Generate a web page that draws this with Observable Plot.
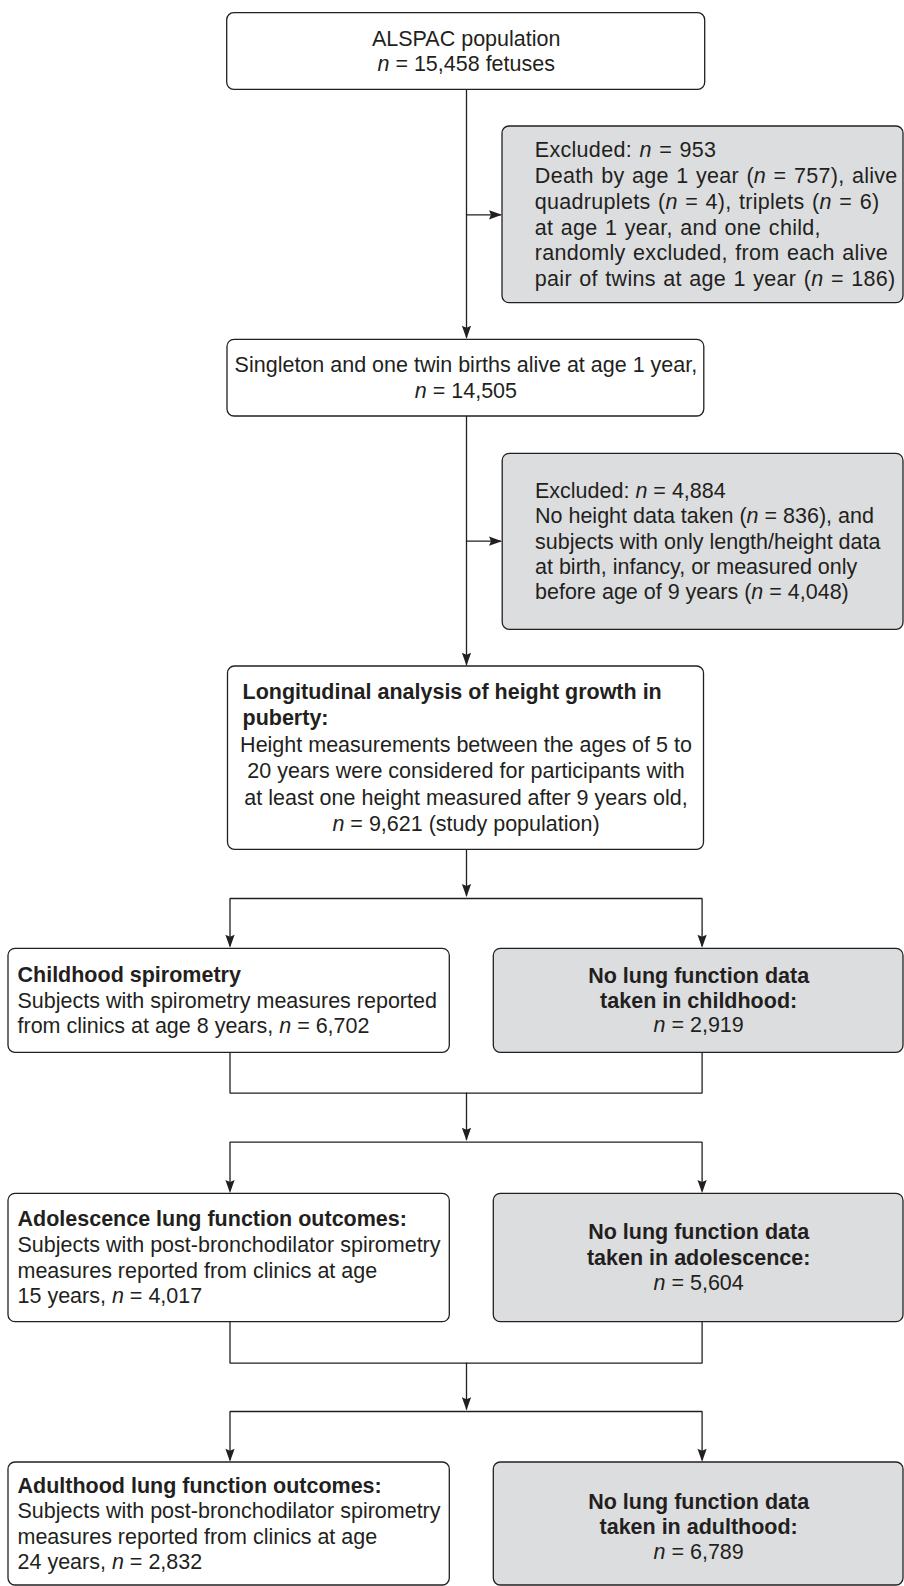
<!DOCTYPE html>
<html>
<head>
<meta charset="utf-8">
<script src="https://cdn.jsdelivr.net/npm/d3@7"></script>
<script src="https://cdn.jsdelivr.net/npm/@observablehq/plot@0.6"></script>
<style>
  html, body { margin: 0; padding: 0; background: #ffffff; }
  #chart svg text { white-space: pre; }
</style>
</head>
<body>
<div id="chart"></div>
<script>
// ---------------- DATA (texts of the flowchart boxes) ----------------
const alspacText = ["ALSPAC population", "n = 15,458 fetuses"];
const excluded1Text = [
  "Excluded: n = 953",
  "Death by age 1 year (n = 757), alive",
  "quadruplets (n = 4), triplets (n = 6)",
  "at age 1 year, and one child,",
  "randomly excluded, from each alive",
  "pair of twins at age 1 year (n = 186)"
];
const singletonText = ["Singleton and one twin births alive at age 1 year,", "n = 14,505"];
const excluded2Text = [
  "Excluded: n = 4,884",
  "No height data taken (n = 836), and",
  "subjects with only length/height data",
  "at birth, infancy, or measured only",
  "before age of 9 years (n = 4,048)"
];
const studyText = [
  "Longitudinal analysis of height growth in",
  "puberty:",
  "Height measurements between the ages of 5 to",
  "20 years were considered for participants with",
  "at least one height measured after 9 years old,",
  "n = 9,621 (study population)"
];
const childhoodText = [
  "Childhood spirometry",
  "Subjects with spirometry measures reported",
  "from clinics at age 8 years, n = 6,702"
];
const noChildhoodText = ["No lung function data", "taken in childhood:", "n = 2,919"];
const adolescenceText = [
  "Adolescence lung function outcomes:",
  "Subjects with post-bronchodilator spirometry",
  "measures reported from clinics at age",
  "15 years, n = 4,017"
];
const noAdolescenceText = ["No lung function data", "taken in adolescence:", "n = 5,604"];
const adulthoodText = [
  "Adulthood lung function outcomes:",
  "Subjects with post-bronchodilator spirometry",
  "measures reported from clinics at age",
  "24 years, n = 2,832"
];
const noAdulthoodText = ["No lung function data", "taken in adulthood:", "n = 6,789"];
const boldLines = [
  "Longitudinal analysis of height growth in", "puberty:",
  "Childhood spirometry", "Adolescence lung function outcomes:", "Adulthood lung function outcomes:",
  "No lung function data", "taken in childhood:", "taken in adolescence:", "taken in adulthood:"
];

// ---------------- LAYOUT (flowchart geometry, separate from data) ----------------
const W = 904, H = 1586;
const FONT = 21.5;
const INK = "#231f20";
const GREY = "#dcdddf";
const L = 229.5, C = 466, R = 701.6; // column centres of connectors

const layout = [
  {id: "alspac", text: alspacText, x1: 226.7, x2: 704.7, y1: 12.7, y2: 89.3, grey: false, align: "middle", lh: 25.7},
  {id: "excl1", text: excluded1Text, x1: 502, x2: 903, y1: 126, y2: 302.7, grey: true, align: "start", pad: 32.3, lh: 25.7, wordSpacing: 1.2, letterSpacing: 0.3},
  {id: "singleton", text: singletonText, x1: 227, x2: 703.8, y1: 339.3, y2: 416, grey: false, align: "middle", lh: 25.3},
  {id: "excl2", text: excluded2Text, x1: 502.2, x2: 903, y1: 453.3, y2: 629.3, grey: true, align: "start", pad: 32.3, lh: 25.3},
  {id: "study", text: studyText, x1: 227.5, x2: 703.5, y1: 666, y2: 849.3, grey: false, align: "mixed", pad: 14.5, lh: 26.5},
  {id: "childhood", text: childhoodText, x1: 8, x2: 449.3, y1: 948.3, y2: 1052.3, grey: false, align: "start", pad: 9, lh: 25.5},
  {id: "noChildhood", text: noChildhoodText, x1: 493.3, x2: 903, y1: 948.3, y2: 1052.3, grey: true, align: "middle", lh: 24.8},
  {id: "adolescence", text: adolescenceText, x1: 8, x2: 449.3, y1: 1193.3, y2: 1321.7, grey: false, align: "start", pad: 9, lh: 25.6},
  {id: "noAdolescence", text: noAdolescenceText, x1: 493.3, x2: 903, y1: 1193.3, y2: 1321.7, grey: true, align: "middle", lh: 25.4},
  {id: "adulthood", text: adulthoodText, x1: 8, x2: 449.3, y1: 1462, y2: 1585, grey: false, align: "start", pad: 9, lh: 25.4},
  {id: "noAdulthood", text: noAdulthoodText, x1: 493.3, x2: 903, y1: 1462, y2: 1585, grey: true, align: "middle", lh: 25, dy: 3.5}
];

const connectors = [
  {id: "a", pts: [[C, 89.3], [C, 337]]},
  {id: "b", pts: [[C, 214.3], [500, 214.3]]},
  {id: "c", pts: [[C, 416], [C, 664]]},
  {id: "d", pts: [[C, 540.7], [500, 540.7]]},
  {id: "e", pts: [[C, 849.3], [C, 895]]},
  {id: "f", pts: [[L, 945], [L, 898], [R, 898], [R, 945]]},
  {id: "g", pts: [[L, 1052.3], [L, 1092.7], [R, 1092.7], [R, 1052.3]]},
  {id: "h", pts: [[C, 1092.7], [C, 1139]]},
  {id: "i", pts: [[L, 1190], [L, 1141.7], [R, 1141.7], [R, 1190]]},
  {id: "j", pts: [[L, 1321.7], [L, 1362.7], [R, 1362.7], [R, 1321.7]]},
  {id: "k", pts: [[C, 1362.7], [C, 1408.5]]},
  {id: "l", pts: [[L, 1459], [L, 1411], [R, 1411], [R, 1459]]}
];

const arrowheads = [
  {x: C, y: 338.3, angle: 0},
  {x: 501.5, y: 214.3, angle: -90},
  {x: C, y: 665.3, angle: 0},
  {x: 501.5, y: 540.7, angle: -90},
  {x: C, y: 896.5, angle: 0},
  {x: L, y: 947.3, angle: 0},
  {x: R, y: 947.3, angle: 0},
  {x: C, y: 1140.2, angle: 0},
  {x: L, y: 1192.5, angle: 0},
  {x: R, y: 1192.5, angle: 0},
  {x: C, y: 1409.8, angle: 0},
  {x: L, y: 1461.2, angle: 0},
  {x: R, y: 1461.2, angle: 0}
];

// ---------------- derived tables for the marks ----------------
const connectorPoints = connectors.flatMap(c => c.pts.map(([x, y]) => ({id: c.id, x, y})));

const textRows = [];
for (const b of layout) {
  const n = b.text.length;
  const cy = (b.y1 + b.y2) / 2 + (b.dy || 0);
  b.text.forEach((line, i) => {
    const bold = boldLines.includes(line);
    const anchor = b.align === "mixed" ? (bold ? "start" : "middle") : b.align;
    const x = anchor === "start" ? b.x1 + b.pad : (b.x1 + b.x2) / 2;
    textRows.push({line, x, y: cy + (i - (n - 1) / 2) * b.lh, anchor, bold,
      wordSpacing: b.wordSpacing || 0, letterSpacing: b.letterSpacing || 0});
  });
}

// slender filled arrowhead, tip at origin pointing down (rotate -90 => right)
const arrowSymbol = {
  draw(ctx) {
    ctx.moveTo(0, 0);
    ctx.lineTo(-4.6, -13);
    ctx.lineTo(0, -11);
    ctx.lineTo(4.6, -13);
    ctx.closePath();
  }
};

const fontFamily = "'Liberation Sans', Arial, Helvetica, sans-serif";
const textMark = (anchor, bold) => Plot.text(
  textRows.filter(d => d.anchor === anchor && d.bold === bold),
  {x: "x", y: "y", text: "line", textAnchor: anchor, lineAnchor: "middle",
   fontSize: FONT, fontWeight: bold ? "bold" : "normal", fontFamily, fill: INK}
);

const chart = Plot.plot({
  width: W,
  height: H,
  margin: 0,
  x: {domain: [0, W], range: [0, W], axis: null},
  y: {domain: [0, H], range: [0, H], axis: null},
  style: {background: "#ffffff", fontFamily},
  marks: [
    Plot.line(connectorPoints, {x: "x", y: "y", z: "id", stroke: INK, strokeWidth: 1.3, strokeLinejoin: "miter"}),
    Plot.rect(layout.filter(d => !d.grey), {x1: "x1", x2: "x2", y1: "y1", y2: "y2", rx: 7, fill: "#ffffff", stroke: INK, strokeWidth: 1.3}),
    Plot.rect(layout.filter(d => d.grey), {x1: "x1", x2: "x2", y1: "y1", y2: "y2", rx: 7, fill: GREY, stroke: INK, strokeWidth: 1.3}),
    Plot.dot(arrowheads, {x: "x", y: "y", rotate: "angle", symbol: arrowSymbol, r: 1, fill: INK, stroke: "none"}),
    textMark("start", false),
    textMark("start", true),
    textMark("middle", false),
    textMark("middle", true)
  ]
});

// spacing of the first exclusion box, and italic statistical symbol "n"
const spaced = new Map(textRows.filter(d => d.wordSpacing || d.letterSpacing).map(d => [d.line, d]));
chart.querySelectorAll("text").forEach(t => {
  if (t.querySelector("tspan")) return;
  const s = t.textContent;
  if (spaced.has(s)) {
    const d = spaced.get(s);
    t.style.wordSpacing = d.wordSpacing + "px";
    t.style.letterSpacing = d.letterSpacing + "px";
  }
  if (!/\bn(?= = )/.test(s)) return;
  const parts = s.split(/(\bn(?= = ))/);
  t.textContent = "";
  for (const p of parts) {
    if (p === "") continue;
    if (p === "n") {
      const ts = document.createElementNS("http://www.w3.org/2000/svg", "tspan");
      ts.setAttribute("font-style", "italic");
      ts.textContent = "n";
      t.appendChild(ts);
    } else {
      t.appendChild(document.createTextNode(p));
    }
  }
});

document.getElementById("chart").appendChild(chart);
</script>
</body>
</html>
